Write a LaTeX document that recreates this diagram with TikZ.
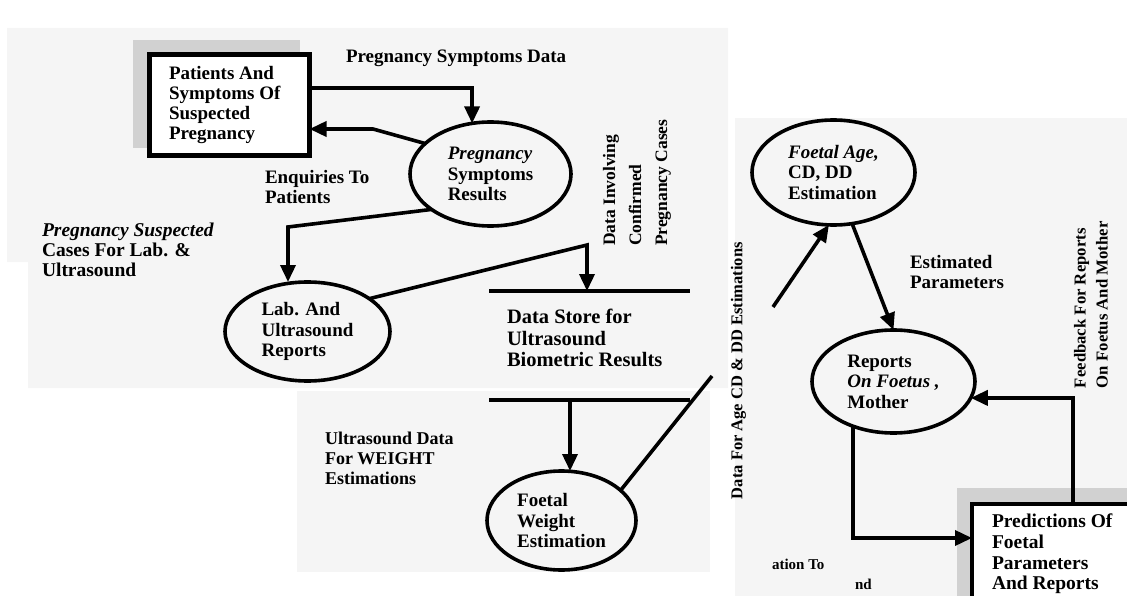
\documentclass[tikz,border=0pt]{standalone}
\usepackage{fontspec}
\setmainfont{Liberation Serif}
\usetikzlibrary{arrows.meta,shapes.geometric,calc}
\begin{document}
\begin{tikzpicture}[x=1pt,y=-1pt,
  every node/.style={font=\bfseries\fontsize{19}{20.5}\selectfont, inner sep=0pt, outer sep=0pt},
  proc/.style={ellipse, draw, line width=3.6pt, align=left},
  ext/.style={draw, line width=4.5pt, fill=white},
  flow/.style={line width=3.6pt, -{Triangle[length=17pt,width=15pt]}},
  plain/.style={line width=3.6pt},
  lbl/.style={align=left, anchor=west},
  vlbl/.style={align=left, anchor=north west, rotate=90},
  piece/.style={fill=black!4},
  shade/.style={fill=black!18}
]
\useasboundingbox (0,0) rectangle (1127,596);
% scanned page pieces
\fill[piece] (7,28) -- (728,28) -- (728,388) -- (28,388) -- (28,262) -- (7,262) -- cycle;
\fill[piece] (297,391) rectangle (710,572);
\fill[piece] (735,118) rectangle (1127,596);
\fill[shade] (133,40) rectangle (300,148);
\fill[shade] (957,488) rectangle (1140,610);

% external entities
\node[ext, minimum width=160pt, minimum height=101pt] (pat) at (229.5,105) {};
\node[lbl, font=\bfseries\fontsize{19}{20}\selectfont] (patT) at (169,105) {Patients And\\Symptoms Of\\Suspected\\Pregnancy};
\node[ext, minimum width=200pt, minimum height=150pt] (box2) at (1072,579) {};
\node[lbl, font=\bfseries\fontsize{19.5}{20.7}\selectfont] (box2T) at (992,554) {Predictions Of\\Foetal\\Parameters\\And Reports};

% processes
\node[proc, minimum width=161pt, minimum height=104pt] (E1) at (490.5,174) {{\itshape Pregnancy}\\Symptoms\\Results};
\node[proc, minimum width=165pt, minimum height=99pt] (E2) at (307.5,331.5) {Lab. And\\Ultrasound\\Reports};
\node[proc, minimum width=149pt, minimum height=99pt] (E3) at (561.5,520.5) {Foetal\\Weight\\Estimation};
\node[proc, minimum width=163pt, minimum height=105pt] (E4) at (833.5,172.5) {{\itshape Foetal Age,}\\CD, DD\\Estimation};
\node[proc, minimum width=163pt, minimum height=103pt] (E5) at (893.5,381.5) {Reports\\{\itshape On Foetus ,}\\Mother};

% data store
\node[minimum width=201pt, minimum height=109pt] (store) at (589.5,345.5) {};
\draw[plain] (store.north west) -- (store.north east);
\draw[plain] (store.south west) -- (store.south east);
\node[lbl, font=\bfseries\fontsize{20.5}{21.5}\selectfont] (storeT) at (507,338) {Data Store for\\Ultrasound\\Biometric Results};

% connectors
\coordinate (k1) at (373,129);
\coordinate (k2) at (288,227);
\coordinate (k3) at (587,245);
\coordinate (c1) at (712,376);
\coordinate (c2) at (773,307);
\draw[flow] ([yshift=17pt]pat.east) -| (E1.110);
\draw[flow] (E1.155) -- (k1) -- (k1 -| pat.east);
\draw[flow] (E1.211) -- (k2) -- (k2 |- E2.north);
\draw[flow] (E2.28) -- (k3) -- (k3 |- store.north);
\draw[flow] ([xshift=-19.5pt]store.south) -- ([xshift=-19.5pt]store.south |- E3.north);
\draw[plain] (E3.27) -- (c1);
\draw[flow] (c2) -- (E4.265);
\draw[flow] (E4.290) -- (E5.north);
\draw[flow] (E5.228) |- ([yshift=41pt]box2.west);
\draw[flow] ([xshift=1pt]box2.north) |- (E5.348);

% labels
\node[lbl] (l1) at (346,58) {Pregnancy Symptoms Data};
\node[lbl] (l2) at (265,187) {Enquiries To\\Patients};
\node[lbl, font=\bfseries\fontsize{19.5}{20}\selectfont] (l3) at (42,250) {{\itshape Pregnancy Suspected}\\Cases For Lab. \&\\Ultrasound};
\node[vlbl, font=\bfseries\fontsize{17.5}{26}\selectfont] (l4) at (603,246) {Data Involving\\Confirmed\\Pregnancy Cases};
\node[vlbl, font=\bfseries\fontsize{16.5}{20}\selectfont] (l5) at (731,499) {Data For Age CD \& DD Estimations};
\node[lbl] (l6) at (910,272) {Estimated\\Parameters};
\node[vlbl, font=\bfseries\fontsize{16.7}{22}\selectfont] (l7) at (1074,388) {Feedback For Reports\\On Foetus And Mother};
\node[lbl, font=\bfseries\fontsize{18}{20}\selectfont] (l8) at (325,458) {Ultrasound Data\\For WEIGHT\\Estimations};
\node[lbl, font=\bfseries\fontsize{15}{18}\selectfont] (l9) at (772,564) {ation To};
\node[lbl, font=\bfseries\fontsize{15}{18}\selectfont] (l10) at (855,584) {nd};
\end{tikzpicture}
\end{document}
